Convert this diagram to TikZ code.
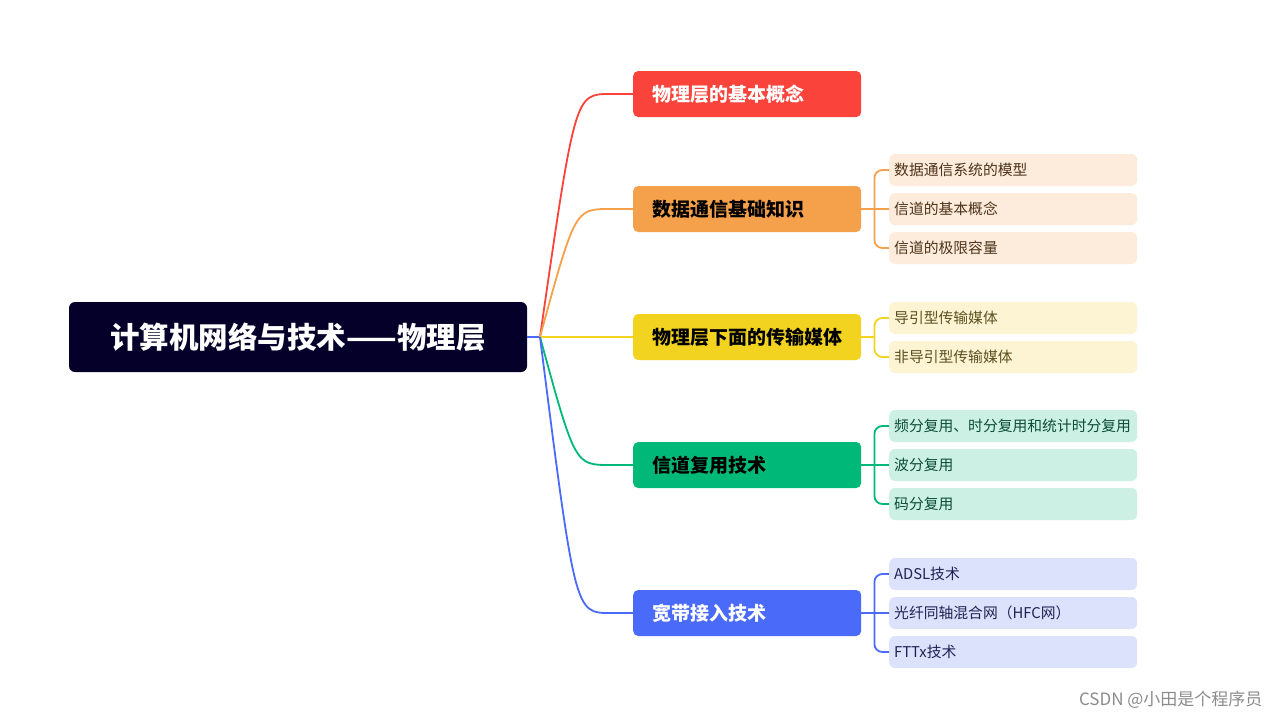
\documentclass[tikz,border=0pt]{standalone}
\usepackage{fontspec}
\setmainfont{Noto Sans CJK SC}
\usepackage{tikz}
\usetikzlibrary{positioning,calc}

\definecolor{rootC}{HTML}{05002A}
\definecolor{redC}{HTML}{FA433A}
\definecolor{orangeC}{HTML}{F5A04A}
\definecolor{yellowC}{HTML}{F2D31F}
\definecolor{greenC}{HTML}{00B978}
\definecolor{blueC}{HTML}{4A6BFA}
\definecolor{orangeL}{HTML}{FDEBDC}
\definecolor{yellowL}{HTML}{FCF4D2}
\definecolor{greenL}{HTML}{CCF1E4}
\definecolor{blueL}{HTML}{DCE1FC}
\definecolor{orangeT}{HTML}{4D3319}
\definecolor{yellowT}{HTML}{5C5020}
\definecolor{greenT}{HTML}{0B4D36}
\definecolor{blueT}{HTML}{1E2452}

\begin{document}
\begin{tikzpicture}[x=1pt,y=-1pt,
  rootbox/.style={fill=rootC,text=white,rounded corners=6pt,minimum width=458pt,minimum height=70pt,font=\fontsize{29.5pt}{34pt}\selectfont\bfseries},
  topic/.style={anchor=west,rounded corners=5pt,minimum height=46pt,text width=190pt,inner xsep=19pt,align=left,font=\fontsize{19pt}{22pt}\selectfont\bfseries},
  leaf/.style={anchor=west,rounded corners=6pt,minimum height=32pt,text width=238pt,inner xsep=5pt,align=left,font=\fontsize{14.8pt}{17pt}\selectfont},
  branch/.style={line width=1.8pt},
  fork/.style={line width=1.8pt,rounded corners=8pt}]
\useasboundingbox[fill=white] (0,0) rectangle (1280,720);

\node[rootbox] (root) at (298,337) {计算机网络与技术——物理层};
\coordinate (hub) at (540,337);

% first level
\node[topic,fill=redC,text=white] (b1) at (633,94) {物理层的基本概念};
\node[topic,fill=orangeC,text=black] (b2) at (633,209) {数据通信基础知识};
\node[topic,fill=yellowC,text=black] (b3) at (633,337) {物理层下面的传输媒体};
\node[topic,fill=greenC,text=black] (b4) at (633,465) {信道复用技术};
\node[topic,fill=blueC,text=white] (b5) at (633,613) {宽带接入技术};

% leaves
\node[leaf,fill=orangeL,text=orangeT] (b2a) at (889,170) {数据通信系统的模型};
\node[leaf,fill=orangeL,text=orangeT] (b2b) at (889,209) {信道的基本概念};
\node[leaf,fill=orangeL,text=orangeT] (b2c) at (889,248) {信道的极限容量};
\node[leaf,fill=yellowL,text=yellowT] (b3a) at (889,318) {导引型传输媒体};
\node[leaf,fill=yellowL,text=yellowT] (b3b) at (889,357) {非导引型传输媒体};
\node[leaf,fill=greenL,text=greenT] (b4a) at (889,426) {频分复用、时分复用和统计时分复用};
\node[leaf,fill=greenL,text=greenT] (b4b) at (889,465) {波分复用};
\node[leaf,fill=greenL,text=greenT] (b4c) at (889,504) {码分复用};
\node[leaf,fill=blueL,text=blueT] (b5a) at (889,574) {ADSL技术};
\node[leaf,fill=blueL,text=blueT] (b5b) at (889,613) {光纤同轴混合网（HFC网）};
\node[leaf,fill=blueL,text=blueT] (b5c) at (889,652) {FTTx技术};

% root to topics
\draw[branch,blueC] (root.east) -- (hub);
\draw[branch,redC] (hub) .. controls ([xshift=-58pt]b1.west) .. ([xshift=-23pt]b1.west) -- (b1.west);
\draw[branch,orangeC] (hub) .. controls ([xshift=-58pt]b2.west) .. ([xshift=-23pt]b2.west) -- (b2.west);
\draw[branch,yellowC] (hub) -- (b3.west);
\draw[branch,greenC] (hub) .. controls ([xshift=-58pt]b4.west) .. ([xshift=-23pt]b4.west) -- (b4.west);
\draw[branch,blueC] (hub) .. controls ([xshift=-58pt]b5.west) .. ([xshift=-23pt]b5.west) -- (b5.west);

% topics to leaves
\draw[branch,orangeC] (b2.east) -- ++(13,0) coordinate (j2);
\path[fork,draw=orangeC] (j2) |- (b2a.west) (j2) -- (b2b.west) (j2) |- (b2c.west);
\draw[branch,yellowC] (b3.east) -- ++(13,0) coordinate (j3);
\path[fork,draw=yellowC] (j3) |- (b3a.west) (j3) |- (b3b.west);
\draw[branch,greenC] (b4.east) -- ++(13,0) coordinate (j4);
\path[fork,draw=greenC] (j4) |- (b4a.west) (j4) -- (b4b.west) (j4) |- (b4c.west);
\draw[branch,blueC] (b5.east) -- ++(13,0) coordinate (j5);
\path[fork,draw=blueC] (j5) |- (b5a.west) (j5) -- (b5b.west) (j5) |- (b5c.west);

\node[anchor=east,text=black!45,font=\fontsize{17pt}{20pt}\selectfont] (mark) at (1266,700) {CSDN @小田是个程序员};
\end{tikzpicture}
\end{document}
